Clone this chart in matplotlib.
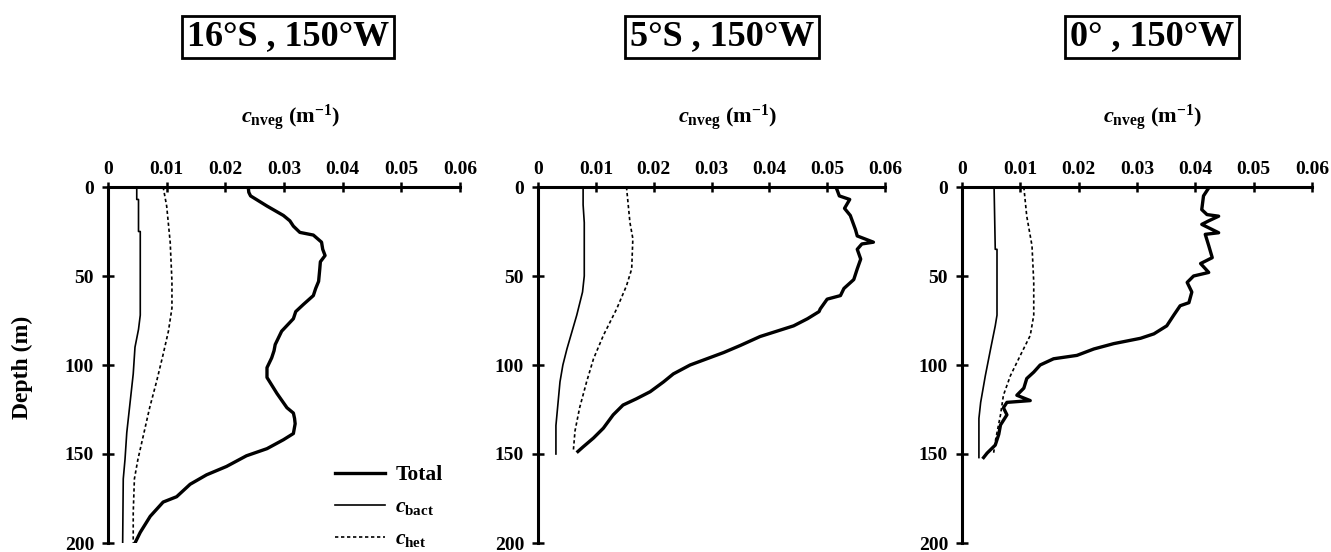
import matplotlib
matplotlib.use("Agg")
import matplotlib.pyplot as plt

plt.rcParams['font.family'] = ['Liberation Serif', 'DejaVu Serif']
plt.rcParams['font.weight'] = 'bold'
plt.rcParams['mathtext.fontset'] = 'custom'
plt.rcParams['mathtext.rm'] = 'Liberation Serif:bold'
plt.rcParams['mathtext.it'] = 'Liberation Serif:italic:bold'
plt.rcParams['mathtext.bf'] = 'Liberation Serif:bold'

# ---------------- data ----------------
titles = ["16°S , 150°W", "5°S , 150°W", "0° , 150°W"]
x_ticks = [0, 0.01, 0.02, 0.03, 0.04, 0.05, 0.06]
x_tick_labels = ["0", "0.01", "0.02", "0.03", "0.04", "0.05", "0.06"]
y_ticks = [0, 50, 100, 150, 200]

# Station 16S
p1_total_depth = [0, 3, 5, 10.7, 16, 19, 22, 25.5, 27, 31, 35, 38.5, 42, 46, 53, 57, 61, 66,
                  70, 74, 81, 88.5, 92, 96, 101.5, 107, 116, 124, 127, 130, 133, 138.5, 142,
                  147, 151, 157, 161.7, 167, 174, 177, 185, 194, 200]
p1_total = [0.0239, 0.0240, 0.0243, 0.0271, 0.0299, 0.0310, 0.0316, 0.0327, 0.0350, 0.0364,
            0.0366, 0.0370, 0.0362, 0.0361, 0.0359, 0.0354, 0.0350, 0.0333, 0.0320, 0.0316,
            0.0296, 0.0285, 0.0283, 0.0279, 0.0271, 0.0271, 0.0288, 0.0305, 0.0316, 0.0318,
            0.0319, 0.0316, 0.0299, 0.0271, 0.0236, 0.0202, 0.0168, 0.0140, 0.0117, 0.0094,
            0.0072, 0.0055, 0.0046]
p1_bact_depth = [0, 7, 7, 25, 25, 72, 80, 90, 105, 120, 138, 153, 164, 200]
p1_bact = [0.0049, 0.0049, 0.0052, 0.0052, 0.0055, 0.0055, 0.0052, 0.0046, 0.0043, 0.0038,
           0.0032, 0.0029, 0.0026, 0.0025]
p1_het_depth = [0, 10.7, 31, 53, 68, 81, 94, 109, 124, 140, 153, 164, 183, 200]
p1_het = [0.0094, 0.0100, 0.0106, 0.0109, 0.0109, 0.0103, 0.0094, 0.0083, 0.0071, 0.0060,
          0.0051, 0.0045, 0.0043, 0.0043]

# Station 5S
p2_total_depth = [0, 1.5, 5, 7, 12, 16, 24, 27.5, 28.5, 31, 32, 35, 40.5, 46, 52, 57, 61, 63,
                  68.5, 70, 74, 78, 81, 84, 89, 93, 96.5, 100, 105, 109.5, 115, 119, 122.5, 128,
                  135.5, 141, 146, 148.6]
p2_total = [0.0515, 0.0517, 0.0521, 0.0539, 0.0530, 0.0540, 0.0549, 0.0552, 0.0560, 0.0580,
            0.0560, 0.0552, 0.0558, 0.0552, 0.0546, 0.0529, 0.0523, 0.0500, 0.0488, 0.0486,
            0.0466, 0.0442, 0.0413, 0.0384, 0.0350, 0.0321, 0.0292, 0.0263, 0.0234, 0.0217,
            0.0194, 0.0170, 0.0147, 0.0130, 0.0113, 0.0096, 0.0078, 0.0069]
p2_bact_depth = [0, 10, 20, 50, 59, 72, 91, 100, 109.5, 134, 150]
p2_bact = [0.0078, 0.0078, 0.0080, 0.0080, 0.0077, 0.0067, 0.0050, 0.0043, 0.0038, 0.0031, 0.0031]
p2_het_depth = [0, 20, 29, 46, 55.5, 68.5, 83.4, 96.5, 109.5, 124, 137, 148.6]
p2_het = [0.0153, 0.0159, 0.0164, 0.0162, 0.0153, 0.0136, 0.0113, 0.0096, 0.0084, 0.0072,
          0.0064, 0.0061]

# Station 0
p3_total_depth = [0, 0.5, 5, 12.7, 15.5, 16.4, 19, 21, 25.7, 26.6, 33, 39.7, 43, 48, 50, 53.6,
                  59, 65, 66.7, 72, 78, 82.5, 85, 88, 91, 94.6, 96.5, 100, 104, 107.6, 113, 117,
                  120, 121, 124, 128, 133.7, 139, 145, 149.5, 152]
p3_total = [0.0420, 0.0423, 0.0414, 0.0411, 0.0420, 0.0440, 0.0423, 0.0411, 0.0440, 0.0417,
            0.0423, 0.0429, 0.0409, 0.0423, 0.0397, 0.0386, 0.0394, 0.0389, 0.0374, 0.0363,
            0.0351, 0.0329, 0.0306, 0.0260, 0.0226, 0.0197, 0.0157, 0.0134, 0.0123, 0.0111,
            0.0106, 0.0094, 0.0117, 0.0077, 0.0071, 0.0077, 0.0066, 0.0063, 0.0057, 0.0043,
            0.0037]
p3_bact_depth = [0, 35, 35, 72, 78, 91, 106, 121, 130, 152]
p3_bact = [0.0055, 0.0057, 0.0060, 0.0060, 0.0057, 0.0049, 0.0040, 0.0032, 0.0029, 0.0029]
p3_het_depth = [0, 16.4, 33, 53.6, 72, 83.4, 94.6, 106, 117, 128, 143, 150]
p3_het = [0.0106, 0.0111, 0.0120, 0.0123, 0.0123, 0.0117, 0.0100, 0.0083, 0.0071, 0.0066,
          0.0057, 0.0054]

panels = [
    (p1_total_depth, p1_total, p1_bact_depth, p1_bact, p1_het_depth, p1_het),
    (p2_total_depth, p2_total, p2_bact_depth, p2_bact, p2_het_depth, p2_het),
    (p3_total_depth, p3_total, p3_bact_depth, p3_bact, p3_het_depth, p3_het),
]

# ---------------- layout ----------------
W, H = 1331, 552
fig = plt.figure(figsize=(W / 100, H / 100), dpi=100)

ax_px = [(108, 460), (538, 885), (962, 1312)]
top_px, bot_px = 187, 543
title_x = [288, 722, 1152]
xlabel_x = [290, 727, 1152]

xlabel_txt = r'$\mathit{c}_{\mathbf{nveg}}$ (m$^{\mathbf{-1}}$)'

axes = []
for i, (l, r) in enumerate(ax_px):
    ax = fig.add_axes([l / W, 1 - bot_px / H, (r - l) / W, (bot_px - top_px) / H])
    td, tv, bd, bv, hd, hv = panels[i]
    ax.plot(tv, td, color='black', lw=2.4, label='Total')
    ax.plot(bv, bd, color='black', lw=1.2, label=r'$\mathit{c}_{\mathbf{bact}}$')
    ax.plot(hv, hd, color='black', lw=1.2, linestyle=(0, (2, 1.6)), label=r'$\mathit{c}_{\mathbf{het}}$')

    ax.set_xlim(0, 0.06)
    ax.set_ylim(200, 0)
    ax.xaxis.tick_top()
    ax.set_xticks(x_ticks)
    ax.set_xticklabels(x_tick_labels)
    ax.set_yticks(y_ticks)
    for s in ['right', 'bottom']:
        ax.spines[s].set_visible(False)
    for s in ['top', 'left']:
        ax.spines[s].set_linewidth(2.2)
    ax.tick_params(axis='x', direction='inout', length=7, width=1.8, pad=3, labelsize=14)
    ax.tick_params(axis='y', direction='inout', length=8, width=1.8, pad=6, labelsize=14)
    for lab in ax.get_xticklabels() + ax.get_yticklabels():
        lab.set_fontweight('bold')

    fig.text(title_x[i] / W, 1 - 37 / H, titles[i], ha='center', va='center', fontsize=26,
             fontweight='bold',
             bbox=dict(boxstyle='square,pad=0.13', fc='white', ec='black', lw=2.0))
    fig.text(xlabel_x[i] / W, 1 - 118 / H, xlabel_txt, ha='center', va='center', fontsize=16)
    axes.append(ax)

fig.text(22 / W, 1 - 367 / H, 'Depth (m)', rotation=90, ha='center', va='center',
         fontsize=17, fontweight='bold')

leg = axes[0].legend(loc='lower left', bbox_to_anchor=(0.645, -0.018), frameon=False,
                     fontsize=15.5, handlelength=2.3, handletextpad=0.5, labelspacing=0.56,
                     borderpad=0, borderaxespad=0)
for t in leg.get_texts():
    t.set_fontweight('bold')

fig.savefig('out.png', dpi=100)
